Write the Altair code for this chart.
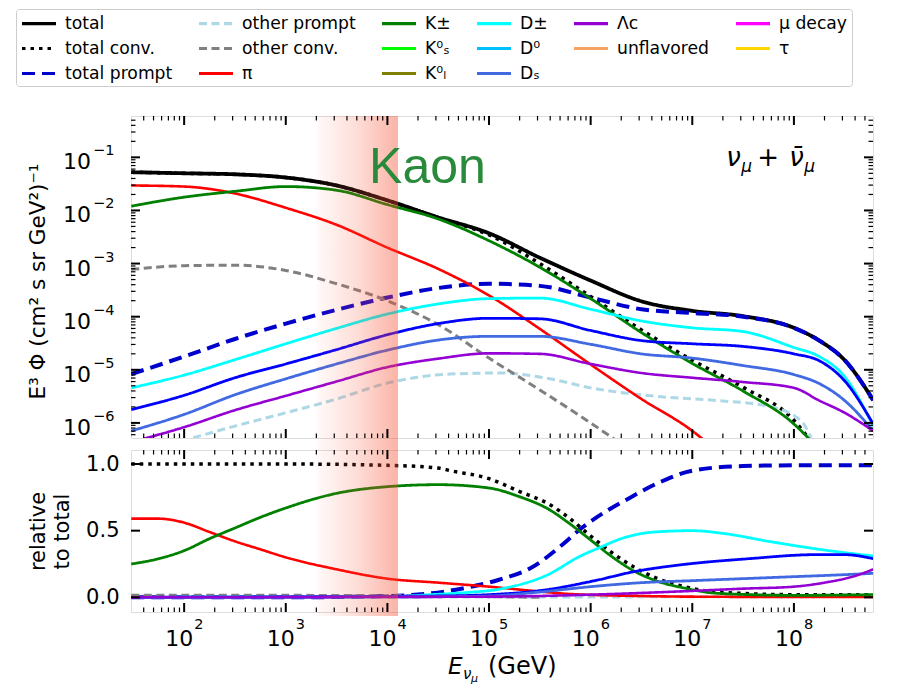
import altair as alt
import pandas as pd

# ---------------- axis ranges ----------------
E_DOMAIN = [30, 6e8]
FLUX_DOMAIN = [5.2e-7, 0.6]
REL_DOMAIN = [-0.11, 1.105]
KAON_BAND = [2000, 12700]

W, H_TOP, H_BOT = 742, 322, 162

# ---------------- top panel: log10(E / GeV) and log10(E^3 Phi) ----------------
grid_logE = [1.48, 2.0, 2.5, 3.0, 3.5, 4.0, 4.5, 5.0, 5.5, 6.0, 6.5, 7.0, 7.5, 8.0, 8.25, 8.5, 8.78]
total_logF = [-1.28, -1.30, -1.32, -1.38, -1.53, -1.81, -2.13, -2.43, -2.89, -3.32, -3.71, -3.89, -3.99, -4.21, -4.45, -4.82, -5.57]
conv_logE = [1.48, 2.0, 2.5, 3.0, 3.5, 4.0, 4.5, 5.0, 5.5, 6.0, 6.5, 7.0, 7.5, 8.0, 8.15]
conv_logF = [-1.28, -1.30, -1.32, -1.38, -1.53, -1.81, -2.14, -2.46, -3.00, -3.62, -4.25, -4.82, -5.33, -5.95, -6.30]
prompt_logF = [-5.08, -4.75, -4.42, -4.13, -3.87, -3.64, -3.46, -3.38, -3.42, -3.64, -3.86, -3.93, -4.00, -4.21, -4.45, -4.82, -5.57]
oprompt_logE = [2.09, 2.5, 3.0, 3.5, 4.0, 4.62, 5.1, 5.6, 6.0, 6.59, 7.25, 7.74, 8.07, 8.17]
oprompt_logF = [-6.28, -6.06, -5.81, -5.55, -5.25, -5.08, -5.06, -5.17, -5.34, -5.49, -5.58, -5.68, -5.96, -6.28]
oconv_logE = [1.48, 2.0, 2.5, 3.0, 3.5, 4.0, 4.5, 5.0, 5.5, 6.0, 6.23]
oconv_logF = [-3.11, -3.04, -3.03, -3.13, -3.38, -3.70, -4.15, -4.78, -5.38, -6.00, -6.30]
pi_logE = [1.48, 2.0, 2.5, 3.0, 3.5, 4.0, 4.5, 5.0, 5.5, 6.0, 6.5, 7.0, 7.1]
pi_logF = [-1.53, -1.55, -1.68, -1.95, -2.27, -2.70, -3.10, -3.60, -4.23, -4.90, -5.55, -6.15, -6.30]
k_logE = [1.48, 2.0, 2.5, 3.0, 3.5, 4.0, 4.5, 5.0, 5.5, 6.0, 6.5, 7.0, 7.5, 8.0, 8.15]
k_logF = [-1.92, -1.75, -1.64, -1.55, -1.62, -1.89, -2.16, -2.57, -3.07, -3.66, -4.30, -4.88, -5.40, -6.02, -6.30]
dpm_logF = [-5.34, -5.10, -4.81, -4.51, -4.22, -3.95, -3.76, -3.66, -3.65, -3.86, -4.08, -4.21, -4.28, -4.58, -4.75, -5.13, -6.06]
d0_logF = [-5.75, -5.48, -5.15, -4.89, -4.62, -4.34, -4.13, -4.03, -4.04, -4.26, -4.45, -4.51, -4.56, -4.70, -4.83, -5.21, -6.02]
ds_logF = [-6.15, -5.84, -5.47, -5.17, -4.89, -4.63, -4.44, -4.37, -4.37, -4.52, -4.70, -4.78, -4.92, -5.09, -5.26, -5.58, -6.15]
lc_logE = [1.6, 2.0, 2.5, 3.0, 3.5, 4.0, 4.5, 5.0, 5.5, 6.0, 6.5, 7.0, 7.5, 8.0, 8.25, 8.5, 8.78]
lc_logF = [-6.30, -6.08, -5.76, -5.49, -5.22, -4.95, -4.79, -4.69, -4.70, -4.89, -5.06, -5.15, -5.23, -5.34, -5.58, -5.81, -6.15]

# ---------------- bottom panel: fraction of total ----------------
rconv_logE = [1.48, 2.0, 3.0, 4.0, 4.5, 4.62, 5.0, 5.28, 5.61, 5.78, 6.0, 6.2, 6.42, 6.66, 6.92, 7.25, 8.0, 8.78]
rconv_val = [1.0, 1.0, 1.0, 0.99, 0.97, 0.95, 0.89, 0.80, 0.69, 0.60, 0.46, 0.34, 0.23, 0.14, 0.08, 0.04, 0.02, 0.02]
rprompt_logE = [1.48, 3.0, 4.0, 4.43, 4.76, 5.09, 5.41, 5.73, 5.88, 6.04, 6.37, 6.7, 7.0, 7.5, 8.0, 8.78]
rprompt_val = [0.0, 0.0, 0.01, 0.03, 0.07, 0.13, 0.22, 0.40, 0.50, 0.59, 0.74, 0.87, 0.95, 0.985, 0.99, 0.99]
roprompt_logE = [4.0, 5.0, 6.0, 7.0, 8.0, 8.2]
roprompt_val = [0.0, 0.003, 0.003, 0.004, 0.004, 0.003]
roconv_logE = [1.48, 3.0, 4.0, 4.5, 5.0, 5.5]
roconv_val = [0.015, 0.015, 0.012, 0.01, 0.005, 0.0]
rpi_logE = [1.48, 1.75, 2.0, 2.25, 2.5, 2.75, 3.0, 3.5, 4.0, 4.5, 5.0, 5.41, 5.8, 6.5, 7.0, 8.0, 8.78]
rpi_val = [0.59, 0.59, 0.56, 0.49, 0.42, 0.36, 0.30, 0.21, 0.14, 0.11, 0.08, 0.05, 0.025, 0.01, 0.005, 0.003, 0.003]
rk_logE = [1.48, 1.75, 2.0, 2.25, 2.5, 2.75, 3.0, 3.5, 4.0, 4.5, 5.0, 5.28, 5.61, 5.78, 6.0, 6.2, 6.42, 6.66, 6.92, 7.25, 8.0, 8.78]
rk_val = [0.25, 0.29, 0.35, 0.44, 0.52, 0.60, 0.67, 0.78, 0.83, 0.845, 0.82, 0.76, 0.65, 0.56, 0.43, 0.31, 0.20, 0.12, 0.07, 0.03, 0.015, 0.02]
rdpm_logE = [1.48, 4.0, 4.43, 4.76, 5.09, 5.58, 5.9, 6.08, 6.3, 6.63, 7.0, 7.3, 7.75, 8.25, 8.78]
rdpm_val = [0.0, 0.005, 0.02, 0.035, 0.06, 0.17, 0.31, 0.37, 0.44, 0.49, 0.50, 0.48, 0.42, 0.36, 0.31]
rd0_logE = [1.48, 4.5, 5.0, 5.5, 6.07, 6.41, 6.9, 7.56, 8.21, 8.5, 8.78]
rd0_val = [0.0, 0.01, 0.02, 0.05, 0.13, 0.19, 0.245, 0.29, 0.32, 0.32, 0.29]
rds_logE = [1.48, 4.5, 5.0, 5.5, 6.0, 6.5, 7.0, 7.5, 8.0, 8.5, 8.78]
rds_val = [0.0, 0.005, 0.01, 0.04, 0.08, 0.11, 0.125, 0.14, 0.155, 0.17, 0.18]
rlc_logE = [1.48, 5.0, 6.0, 6.9, 7.5, 8.0, 8.3, 8.6, 8.78]
rlc_val = [0.0, 0.005, 0.02, 0.045, 0.065, 0.08, 0.11, 0.16, 0.21]

# ---------------- legend (row-major order, 6 columns) ----------------
legend_names = ["total", "other prompt", "K\u00b1", "D\u00b1", "\u039bc", "\u03bc decay",
                "total conv.", "other conv.", "K\u2070\u209b", "D\u2070", "unflavored", "\u03c4",
                "total prompt", "\u03c0", "K\u2070\u2097", "D\u209b"]
legend_colors = ["#000000", "#add8e6", "#008000", "#00ffff", "#9400d3", "#ff00ff",
                 "#000000", "#808080", "#00ff00", "#00bfff", "#f4a460", "#ffd700",
                 "#0000cd", "#ff0000", "#808000", "#4169e1"]
DOT, DASH, SHORT, SOLID = [3.5, 5], [13, 7], [8, 4.5], [1, 0]
legend_dashes = [SOLID, SHORT, SOLID, SOLID, SOLID, SOLID,
                 DOT, SHORT, SOLID, SOLID, SOLID, SOLID,
                 DASH, SOLID, SOLID, SOLID]

x_major = [1e2, 1e3, 1e4, 1e5, 1e6, 1e7, 1e8]
x_exps = ["2", "3", "4", "5", "6", "7", "8"]
y_major = [1e-6, 1e-5, 1e-4, 1e-3, 1e-2, 1e-1]
y_exps = ["\u22126", "\u22125", "\u22124", "\u22123", "\u22122", "\u22121"]
rel_ticks = [0.0, 0.5, 1.0]

x_minor = [k * 10.0 ** n for n in range(1, 9) for k in range(2, 10)
           if E_DOMAIN[0] < k * 10.0 ** n < E_DOMAIN[1]]
y_minor = [k * 10.0 ** n for n in range(-7, 0) for k in range(2, 10)
           if FLUX_DOMAIN[0] < k * 10.0 ** n < FLUX_DOMAIN[1]]

FONT = "DejaVu Sans"


def xs():
    return alt.Scale(type="log", domain=E_DOMAIN, nice=False)


def ys_top():
    return alt.Scale(type="log", domain=FLUX_DOMAIN, nice=False)


def ys_bot():
    return alt.Scale(type="linear", domain=REL_DOMAIN, nice=False, zero=False)


YAX_TOP = alt.Axis(title="E\u00b3 \u03a6 (cm\u00b2 s sr GeV\u00b2)\u207b\u00b9",
                   labels=False, ticks=False, tickSize=0, domain=False, grid=False,
                   titleX=-104, titleY=H_TOP / 2 + 4, titleAngle=-90,
                   titleBaseline="top", titleAlign="center",
                   titleFontSize=21.5, titleFontWeight="normal", titleColor="black",
                   titleFont=FONT)
YAX_BOT = alt.Axis(values=rel_ticks, format=".1f", labelFontSize=21, labelFont=FONT,
                   labelColor="black", labelPadding=12, ticks=False, tickSize=0,
                   domain=False, grid=False, title=["relative", "to total"],
                   titleX=-104, titleY=H_BOT / 2, titleAngle=-90, titleBaseline="top",
                   titleAlign="center", titleFontSize=21, titleFontWeight="normal",
                   titleColor="black", titleLineHeight=24, titleFont=FONT)


def frame(logE, vals, logy):
    return pd.DataFrame({"E": [10 ** v for v in logE],
                         "F": [10 ** v for v in vals] if logy else vals})


top_series = [
    ("total", grid_logE, total_logF, "#000000", SOLID, 3.8),
    ("total conv.", conv_logE, conv_logF, "#000000", DOT, 3.5),
    ("total prompt", grid_logE, prompt_logF, "#0000cd", DASH, 4.0),
    ("other prompt", oprompt_logE, oprompt_logF, "#add8e6", SHORT, 3.0),
    ("other conv.", oconv_logE, oconv_logF, "#808080", SHORT, 3.0),
    ("pi", pi_logE, pi_logF, "#ff0000", SOLID, 2.6),
    ("K", k_logE, k_logF, "#008000", SOLID, 2.8),
    ("D+-", grid_logE, dpm_logF, "#00ffff", SOLID, 2.8),
    ("D0", grid_logE, d0_logF, "#0000ff", SOLID, 2.8),
    ("Ds", grid_logE, ds_logF, "#4169e1", SOLID, 2.8),
    ("Lc", lc_logE, lc_logF, "#9400d3", SOLID, 2.6),
]
bot_series = [
    ("total conv.", rconv_logE, rconv_val, "#000000", DOT, 3.5),
    ("total prompt", rprompt_logE, rprompt_val, "#0000cd", DASH, 4.0),
    ("other prompt", roprompt_logE, roprompt_val, "#add8e6", SHORT, 3.0),
    ("other conv.", roconv_logE, roconv_val, "#808080", SHORT, 3.0),
    ("pi", rpi_logE, rpi_val, "#ff0000", SOLID, 2.6),
    ("K", rk_logE, rk_val, "#008000", SOLID, 2.8),
    ("D+-", rdpm_logE, rdpm_val, "#00ffff", SOLID, 2.8),
    ("D0", rd0_logE, rd0_val, "#0000ff", SOLID, 2.8),
    ("Ds", rds_logE, rds_val, "#4169e1", SOLID, 2.8),
    ("Lc", rlc_logE, rlc_val, "#9400d3", SOLID, 2.6),
]

band_fill = {
    "gradient": "linear", "x1": 0, "x2": 1, "y1": 0, "y2": 0,
    "stops": [
        {"offset": 0, "color": "rgba(250,95,65,0.03)"},
        {"offset": 0.5, "color": "rgba(248,85,55,0.20)"},
        {"offset": 1, "color": "rgba(245,75,45,0.42)"},
    ],
}
band_df = pd.DataFrame({"E0": [KAON_BAND[0]], "E1": [KAON_BAND[1]]})


def tick_layers(H, yscale_fn, yax, y_major_vals, y_minor_vals):
    layers = []
    for vals, L, sw in [(x_major, 9, 2.0), (x_minor, 4.5, 1.2)]:
        d = pd.DataFrame({"v": vals})
        base = alt.Chart(d).mark_rule(color="black", strokeWidth=sw)
        layers.append(base.encode(x=alt.X("v:Q", scale=xs(), axis=None),
                                  y=alt.value(0), y2=alt.value(L)))
        layers.append(base.encode(x=alt.X("v:Q", scale=xs(), axis=None),
                                  y=alt.value(H), y2=alt.value(H - L)))
    for vals, L, sw in [(y_major_vals, 9, 2.0), (y_minor_vals, 4.5, 1.2)]:
        if not vals:
            continue
        d = pd.DataFrame({"v": vals})
        base = alt.Chart(d).mark_rule(color="black", strokeWidth=sw)
        layers.append(base.encode(y=alt.Y("v:Q", scale=yscale_fn(), axis=yax),
                                  x=alt.value(0), x2=alt.value(L)))
        layers.append(base.encode(y=alt.Y("v:Q", scale=yscale_fn(), axis=yax),
                                  x=alt.value(W), x2=alt.value(W - L)))
    return layers


# ================= top panel =================
top_layers = []
for name, le, lf, col, dash, sw in top_series:
    top_layers.append(
        alt.Chart(frame(le, lf, True)).mark_line(
            clip=True, interpolate="monotone", color=col, strokeDash=dash, strokeWidth=sw
        ).encode(x=alt.X("E:Q", scale=xs(), axis=None),
                 y=alt.Y("F:Q", scale=ys_top(), axis=YAX_TOP))
    )

legend_df = pd.DataFrame({"name": legend_names, "E": [1.0] * len(legend_names),
                          "F": [1.0] * len(legend_names)})
leg = alt.Legend(title=None, orient="none", legendX=-115, legendY=-107, columns=6,
                 direction="horizontal",
                 symbolType="M-1,0H3", symbolSize=289, symbolStrokeWidth=3.2,
                 labelFontSize=17.2, labelFont=FONT, labelColor="black", labelOffset=24,
                 rowPadding=6, columnPadding=19, padding=4, strokeColor="#cccccc",
                 fillColor="white", cornerRadius=3, labelLimit=300)
top_layers.append(
    alt.Chart(legend_df).mark_line(clip=True).encode(
        x=alt.X("E:Q", scale=xs(), axis=None),
        y=alt.Y("F:Q", scale=ys_top(), axis=YAX_TOP),
        color=alt.Color("name:N", scale=alt.Scale(domain=legend_names, range=legend_colors), legend=leg),
        strokeDash=alt.StrokeDash("name:N", scale=alt.Scale(domain=legend_names, range=legend_dashes), legend=leg),
    )
)

top_layers.append(
    alt.Chart(band_df).mark_rect(fill=band_fill, strokeWidth=0).encode(
        x=alt.X("E0:Q", scale=xs(), axis=None), x2="E1:Q",
        y=alt.value(0), y2=alt.value(H_TOP + 12))
)
top_layers += tick_layers(H_TOP, ys_top, YAX_TOP, y_major, y_minor)

ylab_df = pd.DataFrame({"v": y_major, "exp": y_exps})
top_layers.append(
    alt.Chart(ylab_df).mark_text(align="right", baseline="alphabetic", dy=12,
                                 fontSize=22, font=FONT, color="black", text="10").encode(
        y=alt.Y("v:Q", scale=ys_top(), axis=YAX_TOP), x=alt.value(-40))
)
top_layers.append(
    alt.Chart(ylab_df).mark_text(align="left", baseline="alphabetic", dy=-2,
                                 fontSize=14.5, font=FONT, color="black").encode(
        y=alt.Y("v:Q", scale=ys_top(), axis=YAX_TOP), x=alt.value(-38), text="exp:N")
)

kaon_df = pd.DataFrame({"E": [24800], "F": [0.0334], "t": ["Kaon"]})
top_layers.append(
    alt.Chart(kaon_df).mark_text(align="center", baseline="alphabetic", fontSize=50,
                                 font="Liberation Sans", color="#2a8a3c").encode(
        x=alt.X("E:Q", scale=xs(), axis=None), y=alt.Y("F:Q", scale=ys_top(), axis=YAX_TOP),
        text="t:N")
)

nu_df = pd.DataFrame({"E": [2.16e7], "F": [0.0698]})
for txt, dx, dy, fs, style in [("\u03bd", 0, 0, 26, "italic"), ("\u03bc", 15, 6, 17, "italic"),
                               ("+", 31, 0, 26, "normal"), ("\u03bd\u0304", 63, 0, 26, "italic"),
                               ("\u03bc", 78, 6, 17, "italic")]:
    top_layers.append(
        alt.Chart(nu_df).mark_text(align="left", baseline="alphabetic", dx=dx, dy=dy,
                                   fontSize=fs, fontStyle=style, font=FONT, color="black",
                                   text=txt).encode(
            x=alt.X("E:Q", scale=xs(), axis=None), y=alt.Y("F:Q", scale=ys_top(), axis=YAX_TOP))
    )

top = alt.layer(*top_layers).properties(width=W, height=H_TOP)

# ================= bottom panel =================
bot_layers = []
for name, le, lv, col, dash, sw in bot_series:
    bot_layers.append(
        alt.Chart(frame(le, lv, False)).mark_line(
            clip=True, interpolate="monotone", color=col, strokeDash=dash, strokeWidth=sw
        ).encode(x=alt.X("E:Q", scale=xs(), axis=None),
                 y=alt.Y("F:Q", scale=ys_bot(), axis=YAX_BOT))
    )

bot_layers.append(
    alt.Chart(band_df).mark_rect(fill=band_fill, strokeWidth=0).encode(
        x=alt.X("E0:Q", scale=xs(), axis=None), x2="E1:Q",
        y=alt.value(0), y2=alt.value(H_BOT + 4))
)
bot_layers += tick_layers(H_BOT, ys_bot, YAX_BOT, rel_ticks, [])

xlab_df = pd.DataFrame({"v": x_major, "exp": x_exps})
bot_layers.append(
    alt.Chart(xlab_df).mark_text(align="right", baseline="alphabetic", dx=9,
                                 fontSize=22, font=FONT, color="black", text="10").encode(
        x=alt.X("v:Q", scale=xs(), axis=None), y=alt.value(H_BOT + 34))
)
bot_layers.append(
    alt.Chart(xlab_df).mark_text(align="left", baseline="alphabetic", dx=10,
                                 fontSize=14.5, font=FONT, color="black").encode(
        x=alt.X("v:Q", scale=xs(), axis=None), y=alt.value(H_BOT + 17), text="exp:N")
)

one = pd.DataFrame({"a": [0]})
for txt, x0, y0, fs, style in [("E", 317, H_BOT + 62, 23, "italic"),
                               ("\u03bd", 332, H_BOT + 67, 15, "italic"),
                               ("\u03bc", 340, H_BOT + 70, 11, "italic"),
                               ("(GeV)", 357, H_BOT + 62, 24, "normal")]:
    bot_layers.append(
        alt.Chart(one).mark_text(align="left", baseline="alphabetic", fontSize=fs,
                                 fontStyle=style, font=FONT, color="black", text=txt).encode(
            x=alt.value(x0), y=alt.value(y0))
    )

bottom = alt.layer(*bot_layers).properties(width=W, height=H_BOT)

chart = alt.vconcat(top, bottom, spacing=12, bounds="flush").properties(
    padding={"left": 7, "top": 0, "right": 0, "bottom": 0}
).configure_view(stroke="black", strokeWidth=1.8).configure(font=FONT)

chart.save("out.html", embed_options={"renderer": "svg", "actions": False})
